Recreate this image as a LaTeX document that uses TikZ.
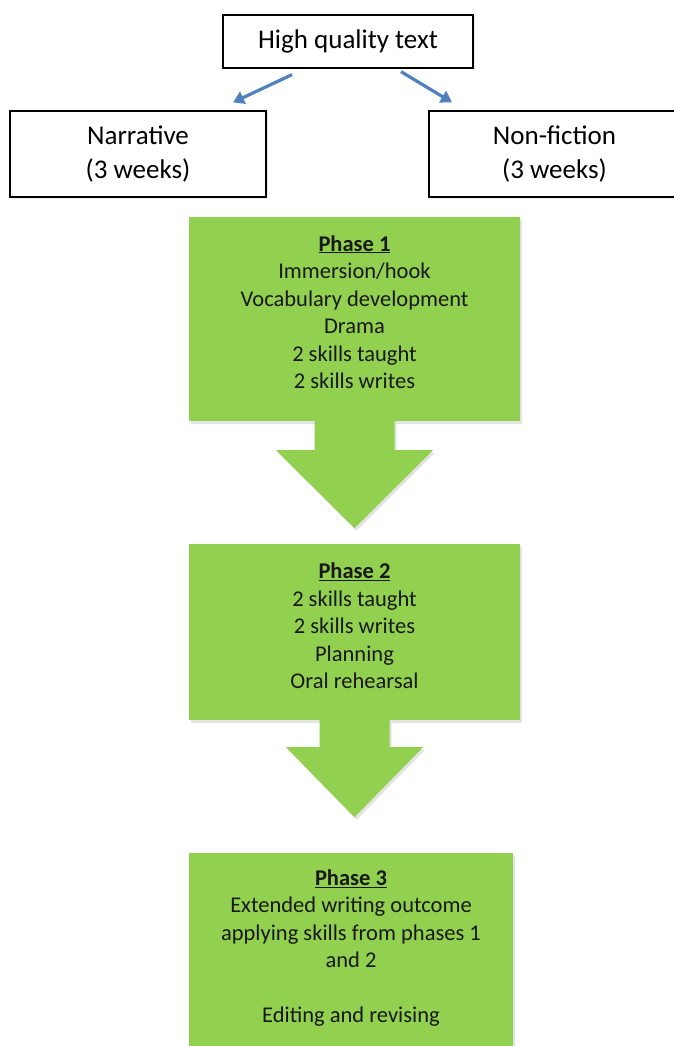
\documentclass[tikz,border=0pt]{standalone}
\usepackage{fontspec}
\setmainfont{Carlito}
\usetikzlibrary{arrows.meta,calc,shadows}
\definecolor{phgreen}{HTML}{92D050}
\definecolor{arrblue}{HTML}{4F81BD}
\begin{document}
\begin{tikzpicture}[x=1pt,y=-1pt,
  softshadow/.style={drop shadow={opacity=0.22, shadow xshift=2pt, shadow yshift=-2.5pt}},
  wbox/.style={draw=black, line width=1.3pt, fill=white, align=center, inner sep=0pt,
    font=\fontsize{27}{34}\selectfont,
    drop shadow={opacity=0.15, shadow xshift=1.5pt, shadow yshift=-1.5pt}},
  gbox/.style={fill=phgreen, draw=none, inner sep=0pt, softshadow},
  gtext/.style={align=center, inner sep=0pt, text=black!90, font=\fontsize{22.5}{27.5}\selectfont},
  blarrow/.style={draw=arrblue, line width=3.2pt, -{Triangle[length=11pt,width=13pt]}},
  garrow/.style={fill=phgreen, softshadow}]
\useasboundingbox (0,0) rectangle (674,1046);
\fill[white] (0,0) rectangle (674,1046);

% top boxes
\node[wbox, minimum width=250pt, minimum height=53pt] (hq) at (348,41.5) {High quality text};
\node[wbox, minimum width=256pt, minimum height=86pt] (narr) at (138,154) {Narrative\\(3 weeks)};
\node[wbox, minimum width=251pt, minimum height=86pt] (nonfic) at (554.5,154) {Non-fiction\\(3 weeks)};

% blue arrows
\draw[blarrow] ($(hq.south)+(-56,6)$) -- ($(narr.north)+(95,-8)$);
\draw[blarrow] ($(hq.south)+(53,3)$) -- ($(nonfic.north)+(-102.5,-8)$);

% phase boxes
\node[gbox, minimum width=331pt, minimum height=204pt] (p1box) at (354.5,319) {};
\node[gtext] (p1) at (354.5,312) {\underline{\textbf{Phase 1}}\\Immersion/hook\\Vocabulary development\\Drama\\2 skills taught\\2 skills writes};

\node[gbox, minimum width=331pt, minimum height=176pt] (p2box) at (354.5,632) {};
\node[gtext] (p2) at (354.5,626) {\underline{\textbf{Phase 2}}\\2 skills taught\\2 skills writes\\Planning\\Oral rehearsal};

\node[gbox, minimum width=324pt, minimum height=207pt] (p3box) at (351,956.5) {};
\node[gtext] (p3) at (351,948) {\underline{\textbf{Phase 3}}\\Extended writing outcome\\applying skills from phases 1\\and 2\\\mbox{}\\Editing and revising};

% green block arrows
\fill[garrow] ($(p1box.south)+(-40,0)$) -- ($(p1box.south)+(40,0)$) -- ($(p1box.south)+(40,29)$)
  -- ($(p1box.south)+(78.5,29)$) -- ($(p1box.south)+(0,107)$) -- ($(p1box.south)+(-78.5,29)$)
  -- ($(p1box.south)+(-40,29)$) -- cycle;
\fill[garrow] ($(p2box.south)+(-35,0)$) -- ($(p2box.south)+(35,0)$) -- ($(p2box.south)+(35,27)$)
  -- ($(p2box.south)+(68.5,27)$) -- ($(p2box.south)+(0,97)$) -- ($(p2box.south)+(-68.5,27)$)
  -- ($(p2box.south)+(-35,27)$) -- cycle;
\end{tikzpicture}
\end{document}
